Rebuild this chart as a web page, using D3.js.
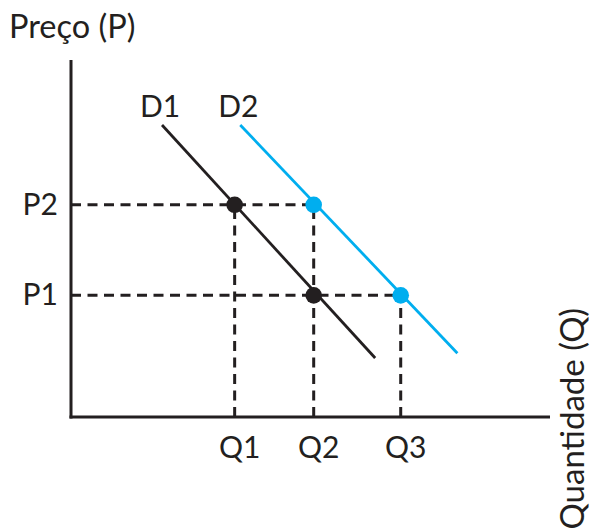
<!DOCTYPE html>
<html>
<head>
<meta charset="utf-8">
<script src="https://cdn.jsdelivr.net/npm/d3@7/dist/d3.min.js"></script>
<style>
  html, body { margin: 0; padding: 0; background: #fff; }
  svg { display: block; }
  text { font-family: Lato, "Open Sans", sans-serif; fill: #231f20; }
</style>
</head>
<body>
<svg id="chart" width="591" height="529"></svg>
<script>
// ---- Data ----
const qDomain = [0, 6];
const pDomain = [0, 4.475];
const quantityTicks = ["Q1", "Q2", "Q3"];
const quantityValues = [2.05, 3.04, 4.13];
const priceTicks = ["P1", "P2"];
const priceValues = [1.525, 2.66];
const curveNames = ["D1", "D2"];
const d1Points = [[1.14, 3.66], [3.81, 0.74]];
const d2Points = [[2.12, 3.66], [4.84, 0.80]];
// equilibrium points: quantity index, price index, curve
const eqQ = [0, 1, 1, 2];
const eqP = [1, 0, 1, 0];
const eqCurve = ["D1", "D1", "D2", "D2"];

const black = "#231f20";
const blue = "#00aeef";

const svg = d3.select("#chart");
const x0 = 71, x1 = 550, y0 = 417, yTop = 60;
const x = d3.scaleLinear().domain(qDomain).range([x0, x1]);
const y = d3.scaleLinear().domain(pDomain).range([y0, yTop]);

// dashed guides
const dash = "10,6.5";
// horizontal: from axis to the right-most point on that price
priceValues.forEach((pv, pi) => {
  const qs = eqQ.filter((q, i) => eqP[i] === pi).map(q => quantityValues[q]);
  const py = y(pv);
  svg.append("line").attr("x1", x0).attr("x2", x(d3.max(qs))).attr("y1", py).attr("y2", py)
    .attr("stroke", black).attr("stroke-width", 3).attr("stroke-dasharray", dash);
});
// vertical: from axis up to the highest point on that quantity
quantityValues.forEach((qv, qi) => {
  const ps = eqP.filter((p, i) => eqQ[i] === qi).map(p => priceValues[p]);
  const qx = x(qv);
  svg.append("line").attr("x1", qx).attr("x2", qx).attr("y1", y0).attr("y2", y(d3.max(ps)))
    .attr("stroke", black).attr("stroke-width", 3).attr("stroke-dasharray", dash);
});

// axes
const xAxis = d3.axisBottom(x).tickValues([]).tickSize(0);
const yAxis = d3.axisLeft(y).tickValues([]).tickSize(0);
svg.append("g").attr("transform", `translate(0,${y0})`).call(xAxis)
  .call(g => g.select(".domain").attr("stroke", black).attr("stroke-width", 3).attr("d", `M${x0 - 1.5},0H${x1}`));
svg.append("g").attr("transform", `translate(${x0},0)`).call(yAxis)
  .call(g => g.select(".domain").attr("stroke", black).attr("stroke-width", 3).attr("d", `M0,${yTop}V${y0 + 1.5}`));

// demand curves
const line = d3.line().x(d => x(d[0])).y(d => y(d[1]));
svg.append("path").datum(d1Points).attr("d", line).attr("fill", "none")
  .attr("stroke", black).attr("stroke-width", 2.8);
svg.append("path").datum(d2Points).attr("d", line).attr("fill", "none")
  .attr("stroke", blue).attr("stroke-width", 2.8);

// dots
eqQ.forEach((qi, i) => {
  svg.append("circle")
    .attr("cx", x(quantityValues[qi]))
    .attr("cy", y(priceValues[eqP[i]]))
    .attr("r", 8.3)
    .attr("fill", eqCurve[i] === "D1" ? black : blue);
});

// curve labels
[d1Points, d2Points].forEach((pts, i) => {
  svg.append("text").attr("x", x(pts[0][0]) - 2).attr("y", 117)
    .attr("text-anchor", "middle").attr("font-size", 30).text(curveNames[i]);
});

// tick labels
quantityValues.forEach((v, i) => {
  svg.append("text").attr("x", x(v) + 5).attr("y", 458)
    .attr("text-anchor", "middle").attr("font-size", 30).text(quantityTicks[i]);
});
priceValues.forEach((v, i) => {
  svg.append("text").attr("x", 58).attr("y", y(v) + 10)
    .attr("text-anchor", "end").attr("font-size", 30).text(priceTicks[i]);
});

// axis titles
svg.append("text").attr("x", 9).attr("y", 38).attr("font-size", 32.5).text("Preço (P)");
svg.append("text").attr("transform", "translate(584,308) rotate(-90)")
  .attr("text-anchor", "end").attr("font-size", 33).text("Quantidade (Q)");
</script>
</body>
</html>
